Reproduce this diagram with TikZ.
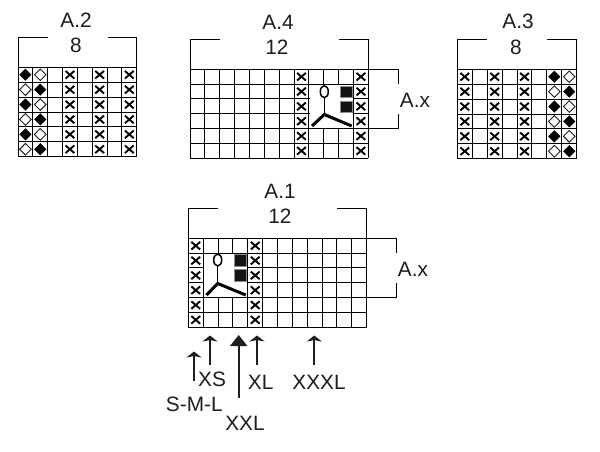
\documentclass[tikz,border=0pt]{standalone}
\usepackage{fontspec}
\setmainfont{Liberation Sans}
\usetikzlibrary{arrows.meta}
\definecolor{ink}{HTML}{1E1E1E}
\definecolor{rule}{HTML}{000000}
\tikzset{
  x=1pt,y=-1pt,
  gridline/.style={draw=rule,line width=0.95pt},
  bracketline/.style={draw=rule,line width=0.95pt},
  lab/.style={text=ink,font=\fontsize{20.8}{21}\selectfont,inner sep=0pt,anchor=center},
  xmark/.style={draw=black,line width=1.9pt},
  blackdiamond/.style={fill=black,draw=black,line width=0.3pt},
  whitediamond/.style={fill=white,draw=ink,line width=0.9pt},
  blocksq/.style={fill=black!92,draw=black!45,line width=1pt},
  stitchline/.style={draw=black,line width=3pt},
  thinstitch/.style={draw=black,line width=1.5pt},
  sizearrow/.style={draw=ink,line width=1.8pt,-{Stealth[length=6pt,width=15pt,inset=1.5pt]}},
  bigarrow/.style={draw=ink,line width=1.8pt,-{Triangle[length=11pt,width=17pt]}},
}
% #1 left, #2 top, #3 right, #4 bottom, #5 cols, #6 rows
\newcommand{\chartgrid}[6]{%
  \pgfmathsetmacro{\cw}{(#3-#1)/#5}\pgfmathsetmacro{\ch}{(#4-#2)/#6}%
  \foreach \i in {0,...,#5}{\draw[gridline] ({#1+\i*\cw},#2) -- ({#1+\i*\cw},#4);}%
  \foreach \j in {0,...,#6}{\draw[gridline] (#1,{#2+\j*\ch}) -- (#3,{#2+\j*\ch});}%
}
% #1 left, #2 top, #3 cw, #4 ch, #5 col, #6 row
\newcommand{\xcell}[6]{%
  \pgfmathsetmacro{\cx}{#1+(#5+0.5)*#3}\pgfmathsetmacro{\cy}{#2+(#6+0.5)*#4}%
  \draw[xmark] (\cx-4.4,\cy-3.8) -- (\cx+4.4,\cy+3.8) (\cx-4.4,\cy+3.8) -- (\cx+4.4,\cy-3.8);%
}
% #7 style
\newcommand{\dcell}[7]{%
  \pgfmathsetmacro{\cx}{#1+(#5+0.5)*#3}\pgfmathsetmacro{\cy}{#2+(#6+0.5)*#4}%
  \path[#7] (\cx-5.8,\cy) -- (\cx,\cy-5.8) -- (\cx+5.8,\cy) -- (\cx,\cy+5.8) -- cycle;%
}
% bracket: left, right, y, gridtop, lefttoend, rightfromstart
\newcommand{\topbracket}[6]{%
  \draw[bracketline] (#5,#3) -- (#1,#3) -- (#1,#4);%
  \draw[bracketline] (#6,#3) -- (#2,#3) -- (#2,#4);%
}
\begin{document}
\begin{tikzpicture}
\useasboundingbox (0,0) rectangle (600,451);
\fill[white] (0,0) rectangle (600,451);

% ---- A.2
\chartgrid{18}{67.3}{136.7}{156.7}{8}{6}
\topbracket{18}{136.7}{37.7}{67.3}{47.5}{107.5}
\foreach \c in {3,5,7}{\foreach \r in {0,...,5}{\xcell{18}{67.3}{14.84}{14.9}{\c}{\r}}}
\foreach \r in {0,2,4}{
  \dcell{18}{67.3}{14.84}{14.9}{0}{\r}{blackdiamond}
  \dcell{18}{67.3}{14.84}{14.9}{1}{\r}{whitediamond}}
\foreach \r in {1,3,5}{
  \dcell{18}{67.3}{14.84}{14.9}{0}{\r}{whitediamond}
  \dcell{18}{67.3}{14.84}{14.9}{1}{\r}{blackdiamond}}
\node[lab] (a2) at (76,20) {A.2};
\node[lab] (n2) at (76,45.5) {8};

% ---- A.4
\chartgrid{190}{69.3}{368.3}{158.3}{12}{6}
\topbracket{190}{368.3}{39.3}{69.3}{220}{339}
\foreach \c in {7,11}{\foreach \r in {0,...,5}{\xcell{190}{69.3}{14.86}{14.83}{\c}{\r}}}
\fill[white] (309.6,84.8) rectangle (352.9,128);
\path[blocksq] (340.3,86) rectangle (352.3,97.5);
\path[blocksq] (340.3,101) rectangle (352.3,112.3);
\draw[thinstitch] (324.3,91.7) ellipse (4pt and 6pt);
\draw[thinstitch] (324.3,98) -- (324.3,114);
\draw[stitchline] (312,126) -- (324.3,114.5) -- (351.7,126);
\draw[bracketline] (368.3,69.3) -- (398.3,69.3) -- (398.3,84);
\draw[bracketline] (398.3,114) -- (398.3,128.3) -- (368.3,128.3);
\node[lab] (a4) at (278,22) {A.4};
\node[lab] (n4) at (277,47.5) {12};
\node[lab] (ax4) at (415,100) {A.x};

% ---- A.3
\chartgrid{457.3}{69.3}{576.7}{158.7}{8}{6}
\topbracket{457.3}{576.7}{39.7}{69.3}{487}{547.3}
\foreach \c in {0,2,4}{\foreach \r in {0,...,5}{\xcell{457.3}{69.3}{14.93}{14.9}{\c}{\r}}}
\foreach \r in {0,2,4}{
  \dcell{457.3}{69.3}{14.93}{14.9}{6}{\r}{blackdiamond}
  \dcell{457.3}{69.3}{14.93}{14.9}{7}{\r}{whitediamond}}
\foreach \r in {1,3,5}{
  \dcell{457.3}{69.3}{14.93}{14.9}{6}{\r}{whitediamond}
  \dcell{457.3}{69.3}{14.93}{14.9}{7}{\r}{blackdiamond}}
\node[lab] (a3) at (518,21) {A.3};
\node[lab] (n3) at (516,47.5) {8};

% ---- A.1
\chartgrid{188.3}{238.3}{366.7}{327.3}{12}{6}
\topbracket{188.3}{366.7}{208.7}{238.3}{218}{337.3}
\foreach \c in {0,4}{\foreach \r in {0,...,5}{\xcell{188.3}{238.3}{14.87}{14.83}{\c}{\r}}}
\fill[white] (203.9,253.8) rectangle (247.2,297);
\path[blocksq] (234.8,254.8) rectangle (246.9,266.8);
\path[blocksq] (234.8,269.6) rectangle (246.9,281.2);
\draw[thinstitch] (217.7,260) ellipse (4pt and 6pt);
\draw[thinstitch] (217.7,266) -- (217.7,283);
\draw[stitchline] (206.5,295) -- (217.7,283.5) -- (245.7,295);
\draw[bracketline] (366.7,238.3) -- (396.7,238.3) -- (396.7,252.7);
\draw[bracketline] (396.7,283.3) -- (396.7,297.7) -- (366.7,297.7);
\node[lab] (a1) at (280,191) {A.1};
\node[lab] (n1) at (280,216.5) {12};
\node[lab] (ax1) at (413,269) {A.x};

% ---- size arrows
\coordinate (smlT) at (194,381);  \coordinate (smlH) at (194,351.5);
\coordinate (xsT)  at (210,365);  \coordinate (xsH)  at (210,335.5);
\coordinate (xxlT) at (238.7,398);\coordinate (xxlH) at (238.7,335);
\coordinate (xlT)  at (257,365);  \coordinate (xlH)  at (257,335.5);
\coordinate (xxxlT) at (314.3,365);\coordinate (xxxlH) at (314.3,335.5);
\draw[sizearrow] (smlT) -- (smlH);
\draw[sizearrow] (xsT) -- (xsH);
\draw[bigarrow] (xxlT) -- (xxlH);
\draw[sizearrow] (xlT) -- (xlH);
\draw[sizearrow] (xxxlT) -- (xxxlH);
\node[lab] (xs) at (212,379) {XS};
\node[lab] (xl) at (260.7,382) {XL};
\node[lab] (xxxl) at (319,382) {XXXL};
\node[lab] (sml) at (194.3,404) {S-M-L};
\node[lab] (xxl) at (245,423) {XXL};
\end{tikzpicture}
\end{document}
